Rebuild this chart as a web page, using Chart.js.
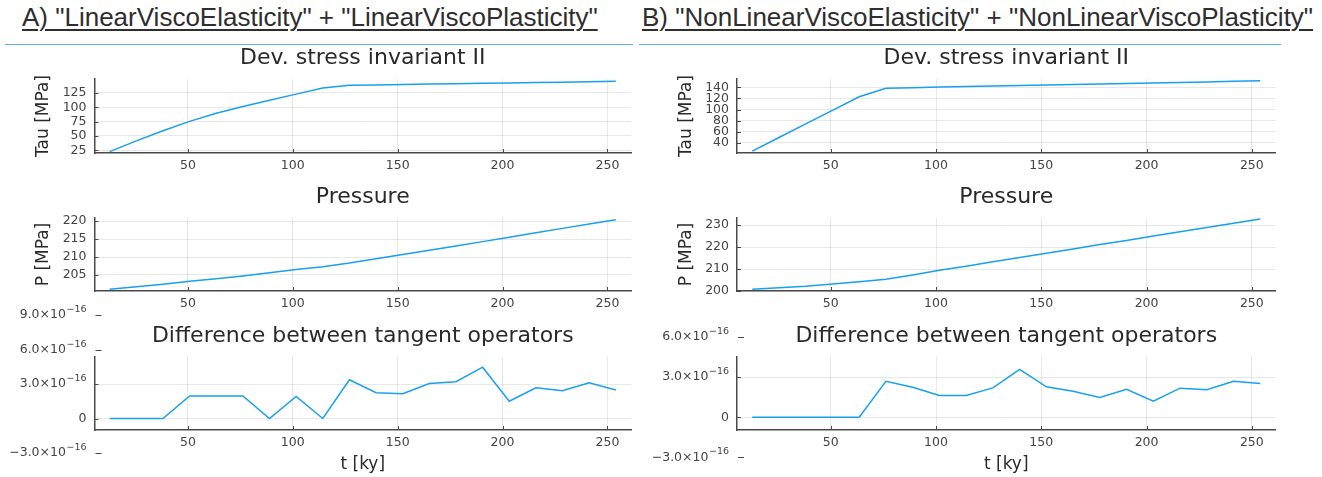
<!DOCTYPE html>
<html>
<head>
<meta charset="utf-8">
<script src="https://cdn.jsdelivr.net/npm/chart.js@4.4.1/dist/chart.umd.min.js"></script>
<style>
  html, body { margin: 0; padding: 0; background: #fff; }
  #page { position: relative; width: 1322px; height: 477px; overflow: hidden; }
  #page canvas { position: absolute; left: 0; top: 0; }
  .head {
    position: absolute; top: 2px;
    font-family: "Liberation Sans", Arial, sans-serif; font-size: 26px; line-height: 30px;
    color: #2e2e2e; white-space: nowrap;
    text-decoration: underline; text-decoration-thickness: 1.5px; text-underline-offset: 3px;
  }
  .rule { position: absolute; top: 44px; height: 1px; background: #5db6e6; }
</style>
</head>
<body>
<div id="page">
  <div class="head" style="left:22px">A) "LinearViscoElasticity" + "LinearViscoPlasticity"</div>
  <div class="head" style="left:642px">B) "NonLinearViscoElasticity" + "NonLinearViscoPlasticity"</div>
  <div class="rule" style="left:5px;width:628px"></div>
  <div class="rule" style="left:639px;width:642px"></div>
  <canvas id="tauA" width="1322" height="477"></canvas>
  <canvas id="presA" width="1322" height="477"></canvas>
  <canvas id="diffA" width="1322" height="477"></canvas>
  <canvas id="tauB" width="1322" height="477"></canvas>
  <canvas id="presB" width="1322" height="477"></canvas>
  <canvas id="diffB" width="1322" height="477"></canvas>
</div>
<script>
// time steps [ky]
const t = [12.7, 25.4, 38.1, 50.8, 63.5, 76.2, 88.9, 101.6, 114.3, 127.0,
           139.7, 152.4, 165.1, 177.8, 190.5, 203.2, 215.9, 228.6, 241.3, 254.0];

// A) linear visco-elasticity + linear visco-plasticity
const tauA  = [22.7, 41.5, 59.0, 75.5, 89.5, 101.5, 112.5, 123.0, 133.5, 138.4,
               139.1, 139.8, 140.5, 141.2, 141.8, 142.5, 143.2, 143.9, 144.6, 145.3];
const presA = [201.0, 201.7, 202.4, 203.2, 203.9, 204.7, 205.6, 206.5, 207.3, 208.3,
               209.5, 210.7, 211.9, 213.1, 214.3, 215.5, 216.8, 218.0, 219.2, 220.4];
const diffA = [0, 0, 0, 1.96e-16, 1.96e-16, 1.96e-16, 0, 1.93e-16, 0, 3.37e-16,
               2.25e-16, 2.16e-16, 3.05e-16, 3.20e-16, 4.47e-16, 1.50e-16, 2.68e-16, 2.42e-16, 3.12e-16, 2.48e-16];

// B) non-linear visco-elasticity + non-linear visco-plasticity
const tauB  = [25.0, 49.5, 74.0, 98.5, 123.0, 138.2, 139.4, 140.7, 141.7, 142.6,
               143.5, 144.4, 145.2, 146.0, 146.9, 147.7, 148.6, 149.6, 150.8, 152.0];
const presB = [200.8, 201.5, 202.2, 203.2, 204.2, 205.3, 207.3, 209.4, 211.3, 213.3,
               215.2, 217.2, 219.1, 221.1, 223.0, 225.0, 226.9, 228.9, 230.8, 232.7];
const diffB = [0, 0, 0, 0, 0, 2.70e-16, 2.25e-16, 1.63e-16, 1.63e-16, 2.20e-16,
               3.58e-16, 2.28e-16, 1.95e-16, 1.48e-16, 2.10e-16, 1.20e-16, 2.18e-16, 2.06e-16, 2.70e-16, 2.53e-16];

// tick positions
const xTicks      = [50, 100, 150, 200, 250];
const tauTicksA   = [25, 50, 75, 100, 125];
const tauTicksB   = [40, 60, 80, 100, 120, 140];
const presTicksA  = [205, 210, 215, 220];
const presTicksB  = [200, 210, 220, 230];
const diffTicksA  = [-3e-16, 0, 3e-16, 6e-16, 9e-16];
const diffTicksB  = [-3e-16, 0, 3e-16, 6e-16];

const FONT = "'DejaVu Sans', Verdana, sans-serif";
const TICK_COLOR = '#444';
const TEXT_COLOR = '#2a2a2a';
const LINE_COLOR = '#18a0f0';

// "3.0×10" with a raised "−16" exponent, right-aligned at x
function drawSci(ctx, v, x, y) {
  ctx.textAlign = 'right';
  ctx.textBaseline = 'middle';
  if (v === 0) {
    ctx.font = '12.5px ' + FONT;
    ctx.fillText('0', x, y);
    return;
  }
  const m = v / 1e-16;
  const base = (m < 0 ? '\u2212' : '') + Math.abs(m).toFixed(1) + '\u00D710';
  const exp = '\u221216';
  ctx.font = '9.5px ' + FONT;
  const ew = ctx.measureText(exp).width;
  ctx.fillText(exp, x, y - 5.5);
  ctx.font = '12.5px ' + FONT;
  ctx.fillText(base, x - ew - 0.5, y);
}

// inward tick marks on the frame; scientific y labels (also those beyond the frame)
const frameMarks = {
  id: 'frameMarks',
  afterDraw(chart, args, o) {
    const { ctx, chartArea: a, scales: { x, y } } = chart;
    ctx.save();
    ctx.strokeStyle = '#4a4a4a';
    ctx.lineWidth = 1;
    ctx.beginPath();
    x.ticks.forEach(tk => {
      const px = Math.round(x.getPixelForValue(tk.value)) + 0.5;
      ctx.moveTo(px, a.bottom); ctx.lineTo(px, a.bottom - 4);
    });
    y.ticks.forEach(tk => {
      const py = Math.round(y.getPixelForValue(tk.value)) + 0.5;
      ctx.moveTo(a.left, py); ctx.lineTo(a.left + 4, py);
    });
    (o.outside || []).forEach(v => {
      const py = Math.round(y.getPixelForValue(v)) + 0.5;
      ctx.moveTo(a.left + 1, py); ctx.lineTo(a.left + 7, py);
    });
    ctx.stroke();
    if (o.sci) {
      ctx.fillStyle = TICK_COLOR;
      const all = y.ticks.map(tk => tk.value).concat(o.outside || []);
      all.forEach(v => drawSci(ctx, v, a.left - 8, y.getPixelForValue(v)));
    }
    ctx.restore();
  }
};

function makePlot(id, cfg) {
  const f = cfg.frame;
  const padLeft = cfg.yTitle ? cfg.yTitleX - 10.2 : 4;
  const xHeight = cfg.xTitle ? 45.2 : 24;
  const titlePadBottom = 7.5;
  const titleBox = 26.4 + titlePadBottom;
  const inside = cfg.yTicks.filter(v => v >= cfg.yMin && v <= cfg.yMax);
  const outside = cfg.yTicks.filter(v => v < cfg.yMin || v > cfg.yMax);

  new Chart(document.getElementById(id), {
    type: 'line',
    data: {
      datasets: [{
        data: t.map((x, i) => ({ x, y: cfg.values[i] })),
        borderColor: LINE_COLOR,
        borderWidth: 1.5,
        pointRadius: 0,
        fill: false,
        tension: 0
      }]
    },
    options: {
      responsive: false,
      animation: false,
      events: [],
      layout: {
        autoPadding: false,
        padding: { left: padLeft, top: f.top - titleBox, right: 1322 - f.right, bottom: 477 - f.bottom - xHeight }
      },
      plugins: {
        legend: { display: false },
        tooltip: { enabled: false },
        title: {
          display: true,
          text: cfg.title,
          fullSize: false,
          color: TEXT_COLOR,
          font: { family: FONT, size: 22, weight: 'normal', lineHeight: 1.2 },
          padding: { top: 0, bottom: titlePadBottom }
        },
        frameMarks: { outside, sci: !!cfg.sci }
      },
      scales: {
        x: {
          type: 'linear',
          min: 5.46,
          max: 261.24,
          afterBuildTicks: s => { s.ticks = xTicks.map(v => ({ value: v })); },
          afterFit: s => { s.height = xHeight; },
          grid: { color: 'rgba(0,0,0,0.09)', lineWidth: 1, drawTicks: false },
          border: { display: true, color: '#4a4a4a', width: 1.5 },
          ticks: {
            autoSkip: false, maxRotation: 0, padding: 5.5,
            color: TICK_COLOR, font: { family: FONT, size: 12.5 },
            callback: v => String(v)
          },
          title: cfg.xTitle ? {
            display: true, text: cfg.xTitle, padding: 0,
            color: TEXT_COLOR, font: { family: FONT, size: 17, lineHeight: 1.2 }
          } : { display: false }
        },
        y: {
          type: 'linear',
          min: cfg.yMin,
          max: cfg.yMax,
          afterBuildTicks: s => { s.ticks = inside.map(v => ({ value: v })); },
          afterFit: s => { s.width = f.left - padLeft; },
          grid: { color: 'rgba(0,0,0,0.09)', lineWidth: 1, drawTicks: false },
          border: { display: true, color: '#4a4a4a', width: 1.5 },
          ticks: {
            autoSkip: false, padding: 8,
            color: TICK_COLOR, font: { family: FONT, size: 12.5 },
            callback: v => (cfg.sci ? '' : String(v))
          },
          title: cfg.yTitle ? {
            display: true, text: cfg.yTitle, padding: 0,
            color: TEXT_COLOR, font: { family: FONT, size: 17, lineHeight: 1.2 }
          } : { display: false }
        }
      }
    },
    plugins: [frameMarks]
  });
}

const colA = { left: 94.5, right: 631, yTitleX: 44 };
const colB = { left: 737, right: 1275.5, yTitleX: 687 };

makePlot('tauA', {
  frame: { left: colA.left, right: colA.right, top: 79, bottom: 153 }, yTitleX: colA.yTitleX,
  values: tauA, yMin: 20.3, yMax: 149.4, yTicks: tauTicksA,
  title: 'Dev. stress invariant II', yTitle: 'Tau [MPa]'
});
makePlot('presA', {
  frame: { left: colA.left, right: colA.right, top: 218, bottom: 291 }, yTitleX: colA.yTitleX,
  values: presA, yMin: 200.5, yMax: 220.9, yTicks: presTicksA,
  title: 'Pressure', yTitle: 'P [MPa]'
});
makePlot('diffA', {
  frame: { left: colA.left, right: colA.right, top: 356.5, bottom: 430 }, yTitleX: colA.yTitleX,
  values: diffA, yMin: -1.0e-16, yMax: 5.4e-16, yTicks: diffTicksA, sci: true,
  title: 'Difference between tangent operators', yTitle: '', xTitle: 't [ky]'
});
makePlot('tauB', {
  frame: { left: colB.left, right: colB.right, top: 79, bottom: 153 }, yTitleX: colB.yTitleX,
  values: tauB, yMin: 21.6, yMax: 155, yTicks: tauTicksB,
  title: 'Dev. stress invariant II', yTitle: 'Tau [MPa]'
});
makePlot('presB', {
  frame: { left: colB.left, right: colB.right, top: 218, bottom: 291 }, yTitleX: colB.yTitleX,
  values: presB, yMin: 200, yMax: 233.2, yTicks: presTicksB,
  title: 'Pressure', yTitle: 'P [MPa]'
});
makePlot('diffB', {
  frame: { left: colB.left, right: colB.right, top: 356.5, bottom: 430 }, yTitleX: colB.yTitleX,
  values: diffB, yMin: -0.95e-16, yMax: 4.55e-16, yTicks: diffTicksB, sci: true,
  title: 'Difference between tangent operators', yTitle: '', xTitle: 't [ky]'
});
</script>
</body>
</html>
